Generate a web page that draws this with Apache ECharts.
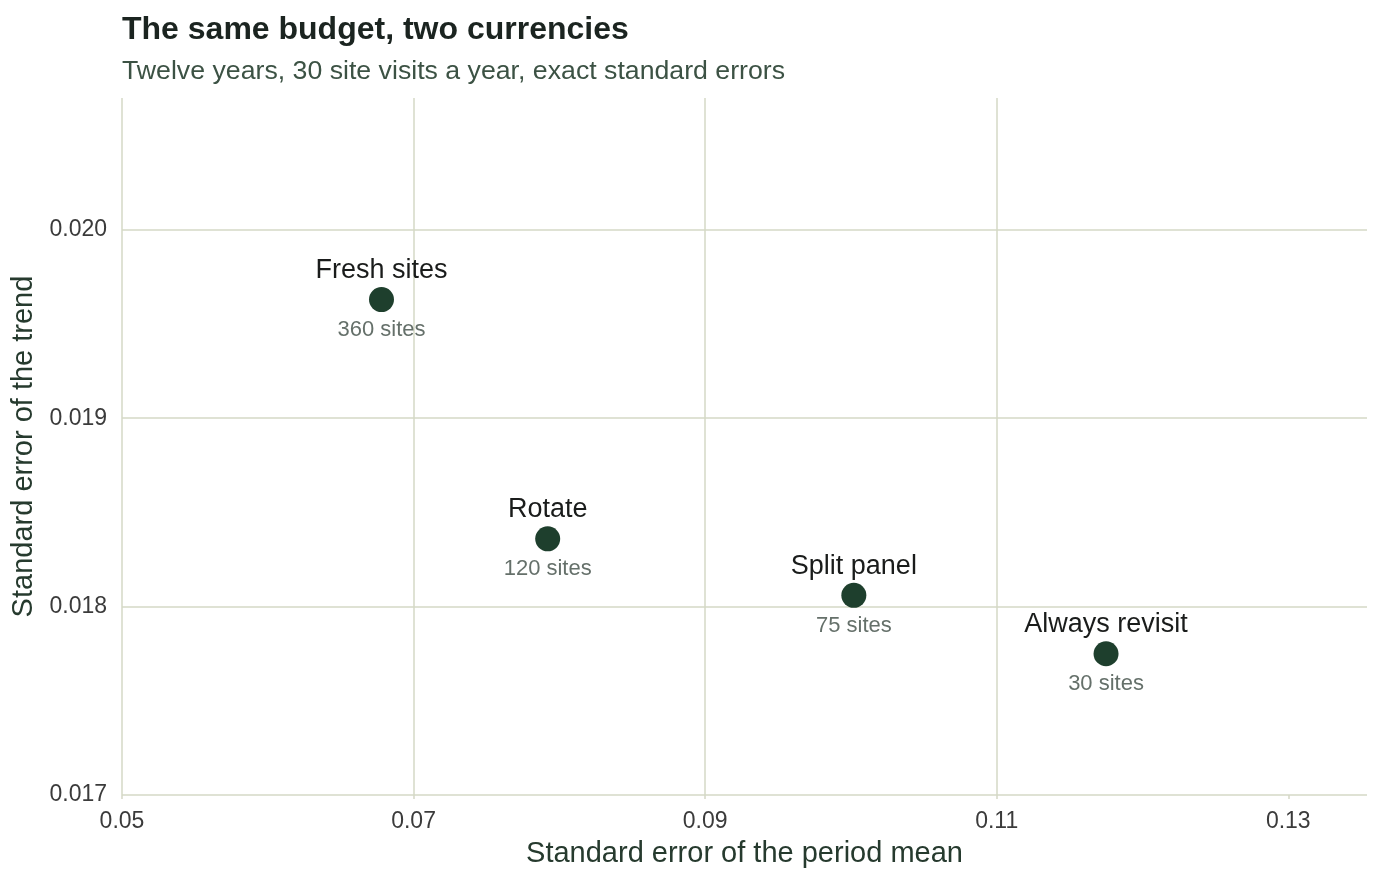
<!DOCTYPE html>
<html>
<head>
	<meta charset="UTF-8">
	<script src="https://cdn.jsdelivr.net/npm/echarts@6/dist/echarts.min.js"></script>
	<title>The same budget, two currencies</title>
	<style>
		html, body { margin: 0; padding: 0; background: #fff; }
	</style>
</head>
<body>
	<div id="main" style="width:1382px;height:883px;"></div>
	<script type="text/javascript">
        // data
        var designs = ['Fresh sites', 'Rotate', 'Split panel', 'Always revisit'];
        var siteCounts = [360, 120, 75, 30];
        var seMean = [0.0678, 0.0792, 0.1002, 0.1175];
        var seTrend = [0.01963, 0.01836, 0.01806, 0.01775];
        var xTicks = [0.05, 0.07, 0.09, 0.11, 0.13];
        var yTicks = [0.017, 0.018, 0.019, 0.020];

        var font = '"Liberation Sans", Arial, Helvetica, sans-serif';
        var gridColor = '#d5d8c6';
        var dotColor = '#1e3f2d';

        var points = [];
        for (var i = 0; i < designs.length; i++) {
            points.push([seMean[i], seTrend[i]]);
        }

        var myChart = echarts.init(document.getElementById('main'));
        var option = {
            animation: false,
            backgroundColor: '#fff',
            textStyle: { fontFamily: font },
            title: [
                {
                    text: 'The same budget, two currencies',
                    left: 117, top: 9,
                    textStyle: { fontFamily: font, fontSize: 32, fontWeight: 'bold', color: '#1b2420' }
                },
                {
                    text: 'Twelve years, 30 site visits a year, exact standard errors',
                    left: 117, top: 53,
                    textStyle: { fontFamily: font, fontSize: 26.7, fontWeight: 'normal', color: '#3c5244' }
                }
            ],
            grid: { left: 122, right: 15, top: 98, bottom: 88 },
            xAxis: {
                type: 'value',
                min: 0.05, max: 0.1354, interval: 0.02,
                name: 'Standard error of the period mean',
                nameLocation: 'middle', nameGap: 44,
                nameTextStyle: { fontSize: 29, color: '#263a2e', fontFamily: font },
                axisLine: { show: false },
                axisTick: { show: true, length: 4, lineStyle: { color: gridColor, width: 1.5 }, customValues: xTicks },
                axisLabel: {
                    fontSize: 23, color: '#3b3b3b', margin: 15, customValues: xTicks,
                    formatter: function (v) { return v.toFixed(2); }
                },
                splitLine: { show: true, showMaxLine: false, lineStyle: { color: gridColor, width: 1.5 } }
            },
            yAxis: {
                type: 'value',
                min: 0.017, max: 0.0207, interval: 0.001,
                name: 'Standard error of the trend',
                nameLocation: 'middle', nameGap: 78,
                nameTextStyle: { fontSize: 29, color: '#263a2e', fontFamily: font },
                axisLine: { show: false },
                axisTick: { show: false },
                axisLabel: {
                    fontSize: 23, color: '#3b3b3b', margin: 15, customValues: yTicks,
                    formatter: function (v) { return v.toFixed(3); }
                },
                splitLine: { show: true, showMaxLine: false, lineStyle: { color: gridColor, width: 1.5 } }
            },
            series: [
                {
                    // dots with design name above
                    type: 'scatter',
                    symbolSize: 25,
                    itemStyle: { color: dotColor, opacity: 1 },
                    data: points,
                    label: {
                        show: true, position: 'top', distance: 3,
                        fontSize: 27, color: '#1a1c1b', fontFamily: font,
                        formatter: function (p) { return designs[p.dataIndex]; }
                    },
                    z: 3
                },
                {
                    // site count below the dot
                    type: 'scatter',
                    symbolSize: 25,
                    silent: true,
                    itemStyle: { color: 'rgba(0,0,0,0)' },
                    data: points,
                    label: {
                        show: true, position: 'bottom', distance: 7,
                        fontSize: 22, color: '#3e4c45', fontFamily: font,
                        formatter: function (p) { return siteCounts[p.dataIndex] + ' sites'; }
                    },
                    z: 2
                }
            ]
        };
        myChart.setOption(option);
	</script>
</body>
</html>
